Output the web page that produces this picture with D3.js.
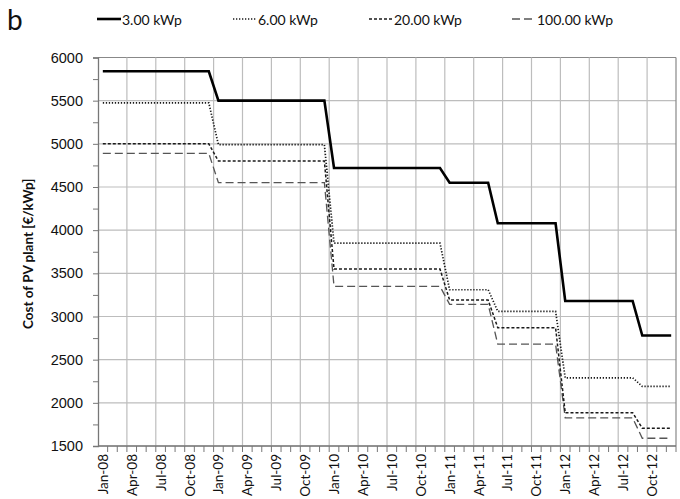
<!DOCTYPE html>
<html>
<head>
<meta charset="utf-8">
<script src="https://cdn.jsdelivr.net/npm/d3@7"></script>
<style>
  body { margin: 0; background: #fff; }
  svg { display: block; font-family: Lato, "Open Sans", sans-serif; }
</style>
</head>
<body>
<div class="chart"></div>
<script>
// monthly categories Jan-08 .. Dec-12
const years = ['08', '09', '10', '11', '12'];
const monthNames = ['Jan','Feb','Mar','Apr','May','Jun','Jul','Aug','Sep','Oct','Nov','Dec'];
const months = [];
years.forEach(y => monthNames.forEach(m => months.push(m + '-' + y)));

const yTicks = [1500, 2000, 2500, 3000, 3500, 4000, 4500, 5000, 5500, 6000];

const kwp3 = [
  5840,5840,5840,5840,5840,5840,5840,5840,5840,5840,5840,5840,
  5500,5500,5500,5500,5500,5500,5500,5500,5500,5500,5500,5500,
  4720,4720,4720,4720,4720,4720,4720,4720,4720,4720,4720,4720,
  4550,4550,4550,4550,4550,4080,4080,4080,4080,4080,4080,4080,
  3180,3180,3180,3180,3180,3180,3180,3180,2780,2780,2780,2780
];
const kwp6 = [
  5475,5475,5475,5475,5475,5475,5475,5475,5475,5475,5475,5475,
  4990,4990,4990,4990,4990,4990,4990,4990,4990,4990,4990,4990,
  3850,3850,3850,3850,3850,3850,3850,3850,3850,3850,3850,3850,
  3310,3310,3310,3310,3310,3060,3060,3060,3060,3060,3060,3060,
  2290,2290,2290,2290,2290,2290,2290,2290,2190,2190,2190,2190
];
const kwp20 = [
  5000,5000,5000,5000,5000,5000,5000,5000,5000,5000,5000,5000,
  4800,4800,4800,4800,4800,4800,4800,4800,4800,4800,4800,4800,
  3550,3550,3550,3550,3550,3550,3550,3550,3550,3550,3550,3550,
  3190,3190,3190,3190,3190,2870,2870,2870,2870,2870,2870,2870,
  1885,1885,1885,1885,1885,1885,1885,1885,1705,1705,1705,1705
];
const kwp100 = [
  4890,4890,4890,4890,4890,4890,4890,4890,4890,4890,4890,4890,
  4550,4550,4550,4550,4550,4550,4550,4550,4550,4550,4550,4550,
  3350,3350,3350,3350,3350,3350,3350,3350,3350,3350,3350,3350,
  3140,3140,3140,3140,3140,2680,2680,2680,2680,2680,2680,2680,
  1825,1825,1825,1825,1825,1825,1825,1825,1590,1590,1590,1590
];

const seriesNames = ['3.00 kWp', '6.00 kWp', '20.00 kWp', '100.00 kWp'];
const seriesValues = [kwp3, kwp6, kwp20, kwp100];

const styles = [
  { stroke: '#000', width: 2.6, dash: null },
  { stroke: '#1a1a1a', width: 1.7, dash: '1.3,1.7' },
  { stroke: '#1a1a1a', width: 1.5, dash: '3,2' },
  { stroke: '#555', width: 1.3, dash: '8,4' }
];

const W = 680, H = 499;
const plotLeft = 98, plotRight = 676, plotTop = 57.5, plotBottom = 446;

const svg = d3.select('.chart').append('svg')
  .attr('width', W).attr('height', H);

const x = d3.scaleBand().domain(months).range([plotLeft, plotRight]).padding(0);
const y = d3.scaleLinear().domain([1500, 6000]).range([plotBottom, plotTop]);
const cx = m => x(m) + x.bandwidth() / 2;

// horizontal grid
svg.append('g')
  .selectAll('line')
  .data(yTicks)
  .join('line')
  .attr('x1', plotLeft).attr('x2', plotRight)
  .attr('y1', d => y(d)).attr('y2', d => y(d))
  .attr('stroke', d => d === 6000 ? '#888' : '#bdbdbd').attr('stroke-width', 1.2);

// vertical grid every 3 months (category boundaries)
const quarterMonths = months.filter((m, i) => i % 3 === 0 && i > 0);
svg.append('g')
  .selectAll('line')
  .data(quarterMonths)
  .join('line')
  .attr('x1', d => x(d)).attr('x2', d => x(d))
  .attr('y1', plotTop).attr('y2', plotBottom)
  .attr('stroke', '#bdbdbd').attr('stroke-width', 1.2);

// right border
svg.append('line')
  .attr('x1', plotRight).attr('x2', plotRight).attr('y1', plotTop).attr('y2', plotBottom)
  .attr('stroke', '#888').attr('stroke-width', 1.2);

// y axis
const yAxis = svg.append('g')
  .attr('transform', `translate(${plotLeft},0)`)
  .call(d3.axisLeft(y).tickValues(d3.range(1500, 6001, 250)).tickSize(5)
    .tickFormat(d => d % 500 === 0 ? d : ''));
yAxis.select('.domain').attr('stroke', '#777').attr('stroke-width', 1.3);
yAxis.selectAll('.tick line').attr('stroke', '#777');
yAxis.selectAll('text')
  .attr('x', -15)
  .style('font-size', '14.5px')
  .style('fill', '#111');

// x axis: ticks at category boundaries, labels quarterly
const xAxis = svg.append('g')
  .attr('transform', `translate(0,${plotBottom})`);
xAxis.append('line')
  .attr('x1', plotLeft).attr('x2', plotRight)
  .attr('stroke', '#777').attr('stroke-width', 1.3);
xAxis.selectAll('.mt')
  .data(months.slice(1).concat(['end']))
  .join('line')
  .attr('class', 'mt')
  .attr('x1', d => d === 'end' ? plotRight : x(d))
  .attr('x2', d => d === 'end' ? plotRight : x(d))
  .attr('y1', 0).attr('y2', 6)
  .attr('stroke', '#777');
xAxis.selectAll('.lbl')
  .data(months.filter((m, i) => i % 3 === 0))
  .join('text')
  .attr('class', 'lbl')
  .attr('transform', d => `translate(${cx(d) + 5},8) rotate(-90)`)
  .attr('text-anchor', 'end')
  .style('font-size', '13.5px')
  .style('fill', '#111')
  .text(d => d);

// y title
svg.append('text')
  .attr('transform', `translate(33,${(plotTop + plotBottom) / 2 + 2}) rotate(-90)`)
  .attr('text-anchor', 'middle')
  .style('font-size', '13.5px')
  .style('font-weight', 'bold')
  .style('fill', '#111')
  .text('Cost of PV plant [€/kWp]');

// panel letter
svg.append('text')
  .attr('x', 7).attr('y', 30)
  .style('font-size', '28px')
  .style('fill', '#111')
  .text('b');

// series lines, drawn back to front
const line = d3.line()
  .x((d, i) => cx(months[i]))
  .y(d => y(d));

for (let s = seriesValues.length - 1; s >= 0; s--) {
  svg.append('path')
    .datum(seriesValues[s])
    .attr('d', line)
    .attr('fill', 'none')
    .attr('stroke', styles[s].stroke)
    .attr('stroke-width', styles[s].width)
    .attr('stroke-dasharray', styles[s].dash);
}

// legend
const legendX = [97, 233, 369, 512];
const legend = svg.append('g');
seriesNames.forEach((name, i) => {
  legend.append('line')
    .attr('x1', legendX[i]).attr('x2', legendX[i] + 24)
    .attr('y1', 19).attr('y2', 19)
    .attr('stroke', styles[i].stroke)
    .attr('stroke-width', styles[i].width)
    .attr('stroke-dasharray', styles[i].dash);
  legend.append('text')
    .attr('x', legendX[i] + 25).attr('y', 24.5)
    .style('font-size', '14px')
    .style('fill', '#111')
    .text(name);
});
</script>
</body>
</html>
